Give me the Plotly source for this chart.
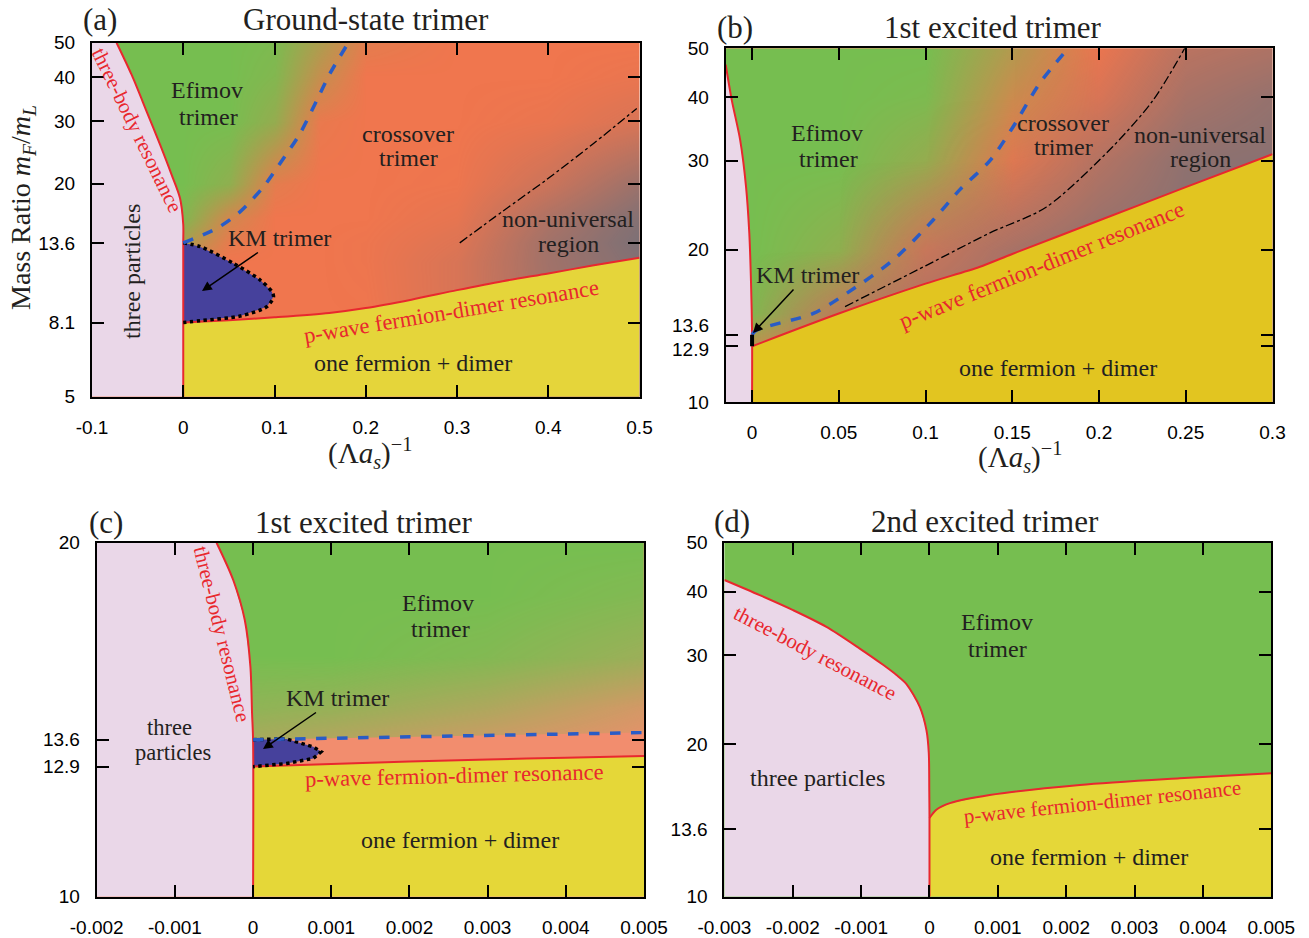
import plotly.graph_objects as go
import math

W, H = 1309, 938
SERIF = "Liberation Serif"
SANS = "Liberation Sans"
DARK = "#231f20"
RED = "#e8282e"
BLUE = "#2a5cc6"
PINK = "rgb(234,215,232)"
GREEN = "rgb(118,190,80)"
ORANGE = "rgb(240,118,78)"
SALMON = "rgb(242,141,110)"
YELLOW_A = "rgb(229,213,58)"
YELLOW_B = "rgb(226,197,32)"
YELLOW_D = "rgb(229,215,56)"
KMBLUE = "rgb(70,65,156)"

# ---------------- panel (a) ----------------
a_tb_x = [-0.0731, -0.0566, -0.0402, -0.0255, -0.0128, -0.0036, 0.0, 0.0, 0.0]
a_tb_y = [50, 40.6, 32.0, 25.8, 21.2, 18.2, 15.3, 13.6, 5]
a_pw_x = [0, 0.05, 0.1, 0.16, 0.2, 0.25, 0.3, 0.35, 0.4, 0.45, 0.5]
a_pw_y = [8.1, 8.22, 8.38, 8.62, 8.9, 9.4, 10.0, 10.6, 11.15, 11.75, 12.35]
a_km_x = [0, 0.0186, 0.0551, 0.0843, 0.0971, 0.0989, 0.0916, 0.0624, 0.0186, 0]
a_km_y = [13.6, 13.27, 11.9, 10.68, 9.9, 9.58, 8.98, 8.45, 8.2, 8.1]
a_bl_x = [0, 0.0369, 0.0624, 0.088, 0.106, 0.128, 0.1464, 0.161, 0.181]
a_bl_y = [13.6, 14.95, 16.66, 19.6, 22.8, 27.7, 34.4, 41.0, 50]
a_dd_x = [0.303, 0.35, 0.398, 0.45, 0.497]
a_dd_y = [13.6, 16.7, 20.5, 26.0, 32.6]
a_gx = [-0.1, 0.0, 0.05, 0.1, 0.15, 0.2, 0.3, 0.4, 0.5]
a_gy = [5, 8.1, 12, 13.6, 16, 20, 30, 40, 50]
a_green = [
    [0, 0, 0, 0, 0, 0, 0, 0, 0],
    [0, 0, 0, 0, 0, 0, 0, 0, 0],
    [0.3, 0.2, 0, 0, 0, 0, 0, 0, 0],
    [0.7, 0.55, 0.08, 0, 0, 0, 0, 0, 0],
    [1, 0.9, 0.25, 0, 0, 0, 0, 0, 0],
    [1, 1, 0.8, 0.1, 0, 0, 0, 0, 0],
    [1, 1, 1, 0.75, 0.05, 0, 0, 0, 0],
    [1, 1, 1, 0.9, 0.35, 0, 0, 0, 0],
    [1, 1, 1, 0.95, 0.55, 0.1, 0, 0, 0],
]
a_gray = [
    [0, 0, 0, 0, 0, 0, 0.2, 0.6, 0.85],
    [0, 0, 0, 0, 0, 0, 0.2, 0.6, 0.85],
    [0, 0, 0, 0, 0, 0.02, 0.2, 0.65, 0.9],
    [0, 0, 0, 0, 0, 0.02, 0.15, 0.65, 0.95],
    [0, 0, 0, 0, 0, 0, 0.08, 0.55, 0.9],
    [0, 0, 0, 0, 0, 0, 0.02, 0.3, 0.7],
    [0, 0, 0, 0, 0, 0, 0, 0.05, 0.2],
    [0, 0, 0, 0, 0, 0, 0, 0, 0.05],
    [0, 0, 0, 0, 0, 0, 0, 0, 0],
]

# ---------------- panel (b) ----------------
b_tb_x = [-0.0152, -0.0117, -0.0069, -0.0035, -0.0016, -0.0006, 0.0, 0.0]
b_tb_y = [46.4, 39.5, 33.0, 26.7, 21.6, 17.2, 13.7, 10]
b_pw_x = [0, 0.05, 0.1, 0.131, 0.15, 0.2, 0.25, 0.3]
b_pw_y = [12.9, 14.97, 17.15, 18.5, 19.63, 22.85, 26.6, 30.9]
b_bl_x = [0, 0.0027, 0.0353, 0.0545, 0.0814, 0.1044, 0.1198, 0.1371, 0.1505, 0.1659, 0.1822]
b_bl_y = [13.6, 13.89, 14.98, 16.41, 19.1, 22.9, 26.3, 30.0, 35.0, 42.7, 50]
b_dd_x = [0.0536, 0.1, 0.1371, 0.1697, 0.208, 0.2312, 0.2494]
b_dd_y = [15.45, 18.6, 21.6, 24.3, 32.0, 39.5, 50]
b_km_x = [0, 0]
b_km_y = [12.9, 13.6]
b_gx = [-0.015, 0, 0.05, 0.1, 0.15, 0.2, 0.25, 0.3]
b_gy = [10, 12.9, 15, 20, 30, 40, 50]
b_green = [
    [0, 0, 0, 0, 0, 0, 0, 0],
    [0.5, 0.4, 0, 0, 0, 0, 0, 0],
    [1, 0.9, 0.2, 0, 0, 0, 0, 0],
    [1, 1, 0.8, 0.05, 0, 0, 0, 0],
    [1, 1, 1, 0.75, 0.05, 0, 0, 0],
    [1, 1, 1, 0.95, 0.3, 0, 0, 0],
    [1, 1, 1, 1, 0.5, 0, 0, 0],
]
b_gray = [
    [0, 0, 0.3, 0.5, 0.6, 0.7, 0.8, 0.8],
    [0, 0, 0.3, 0.5, 0.6, 0.7, 0.8, 0.8],
    [0, 0, 0.3, 0.55, 0.7, 0.8, 0.85, 0.85],
    [0, 0, 0, 0.3, 0.6, 0.8, 0.85, 0.85],
    [0, 0, 0, 0, 0.1, 0.5, 0.8, 0.85],
    [0, 0, 0, 0, 0, 0.2, 0.6, 0.75],
    [0, 0, 0, 0, 0, 0.05, 0.45, 0.55],
]

# ---------------- panel (c) ----------------
c_tb_x = [-0.000467, -0.000255, -0.000106, -0.000034, -0.000013, 0, 0]
c_tb_y = [20, 18.6, 17.19, 15.69, 14.32, 13.6, 10]
c_pw_x = [0, 0.001, 0.002, 0.003, 0.004, 0.005]
c_pw_y = [12.9, 12.97, 13.03, 13.08, 13.13, 13.17]
c_bl_x = [0, 0.005]
c_bl_y = [13.6, 13.79]
c_km_x = [0, 0.00043, 0.00077, 0.00087, 0.00077, 0.00043, 0]
c_km_y = [13.6, 13.62, 13.41, 13.28, 13.11, 12.98, 12.9]
c_gx = [-0.002, 0, 0.001, 0.002, 0.003, 0.004, 0.005]
c_gy = [10, 13.6, 14.5, 16, 18, 20]
c_green = [
    [0, 0, 0, 0, 0, 0, 0],
    [0.6, 0.6, 0.5, 0.4, 0.3, 0.2, 0.1],
    [0.8, 0.8, 0.75, 0.65, 0.55, 0.4, 0.25],
    [1, 1, 1, 0.95, 0.9, 0.8, 0.7],
    [1, 1, 1, 1, 1, 0.95, 0.9],
    [1, 1, 1, 1, 1, 1, 1],
]

# ---------------- panel (d) ----------------
d_tb_x = [-0.003, -0.002484, -0.001996, -0.001507, -0.00102, -0.000679, -0.000483,
          -0.000337, -0.000142, -0.000044, -0.00001, -0.000003, 0, 0]
d_tb_y = [42.2, 39.4, 36.8, 34.1, 30.9, 28.7, 27.4, 26.3, 23.7, 21.3, 19.2, 16.2, 14.3, 10]
d_pw_x = [0, 0.0001, 0.0003, 0.00088, 0.0022, 0.00366, 0.005]
d_pw_y = [14.3, 14.85, 15.3, 15.88, 16.62, 17.13, 17.53]

# ---------------- axes ----------------
ranges = {
    1: dict(x=(-0.1, 0.5), y=(5, 50),
            xt=[-0.1, 0, 0.1, 0.2, 0.3, 0.4, 0.5], xl=["-0.1", "0", "0.1", "0.2", "0.3", "0.4", "0.5"],
            yt=[5, 8.1, 13.6, 20, 30, 40, 50], yl=["5", "8.1", "13.6", "20", "30", "40", "50"],
            dom_x=(92, 639.5), dom_y=(42.7, 396.7)),
    2: dict(x=(-0.0152, 0.3), y=(10, 50),
            xt=[0, 0.05, 0.1, 0.15, 0.2, 0.25, 0.3], xl=["0", "0.05", "0.1", "0.15", "0.2", "0.25", "0.3"],
            yt=[10, 12.9, 13.6, 20, 30, 40, 50], yl=["10", "", "", "20", "30", "40", "50"],
            dom_x=(725.7, 1272.5), dom_y=(48.3, 402.3)),
    3: dict(x=(-0.002, 0.005), y=(10, 20),
            xt=[-0.002, -0.001, 0, 0.001, 0.002, 0.003, 0.004, 0.005],
            xl=["-0.002", "-0.001", "0", "0.001", "0.002", "0.003", "0.004", "0.005"],
            yt=[10, 12.9, 13.6, 20], yl=["10", "12.9", "13.6", "20"],
            dom_x=(96.7, 644), dom_y=(542.7, 896.7)),
    4: dict(x=(-0.003, 0.005), y=(10, 50),
            xt=[-0.003, -0.002, -0.001, 0, 0.001, 0.002, 0.003, 0.004, 0.005],
            xl=["-0.003", "-0.002", "-0.001", "0", "0.001", "0.002", "0.003", "0.004", "0.005"],
            yt=[10, 13.6, 20, 30, 40, 50], yl=["10", "13.6", "20", "30", "40", "50"],
            dom_x=(724.4, 1271.3), dom_y=(542.7, 896.7)),
}

fig = go.Figure()

layout = dict(width=W, height=H, margin=dict(l=0, r=0, t=0, b=0, autoexpand=False),
              paper_bgcolor="white", plot_bgcolor="white", showlegend=False)
for i, r in ranges.items():
    sx = "" if i == 1 else str(i)
    layout["xaxis" + sx] = dict(
        domain=[r["dom_x"][0] / W, r["dom_x"][1] / W], range=list(r["x"]), anchor="y" + sx,
        tickvals=r["xt"], ticktext=r["xl"], ticks="inside", ticklen=12, tickwidth=2,
        tickcolor="black", showline=True, linewidth=2, linecolor="black", mirror="allticks",
        showgrid=False, zeroline=False, tickfont=dict(family=SANS, size=19, color="black"),
        ticklabelstandoff=12, layer="above traces", automargin=False)
    layout["yaxis" + sx] = dict(
        domain=[1 - r["dom_y"][1] / H, 1 - r["dom_y"][0] / H], type="log",
        range=[math.log10(r["y"][0]), math.log10(r["y"][1])], anchor="x" + sx,
        tickvals=r["yt"], ticktext=r["yl"], ticks="inside", ticklen=12, tickwidth=2,
        tickcolor="black", showline=True, linewidth=2, linecolor="black", mirror="allticks",
        showgrid=False, zeroline=False, tickfont=dict(family=SANS, size=19, color="black"),
        ticklabelstandoff=11, layer="above traces", automargin=False)

shapes = []
bgs = {1: ORANGE, 2: ORANGE, 3: SALMON, 4: GREEN}
for i, c in bgs.items():
    sx = "" if i == 1 else str(i)
    shapes.append(dict(type="rect", xref="x" + sx + " domain", yref="y" + sx + " domain",
                       x0=0, x1=1, y0=0, y1=1, fillcolor=c, line=dict(width=0), layer="below"))
layout["shapes"] = shapes


def alpha_scale(rgb):
    return [[0, "rgba(%d,%d,%d,0)" % rgb], [1, "rgba(%d,%d,%d,1)" % rgb]]


def heat(gx, gy, z, rgb, ax):
    fig.add_trace(go.Heatmap(x=gx, y=gy, z=z, zmin=0, zmax=1, zsmooth="best",
                             colorscale=alpha_scale(rgb), showscale=False,
                             hoverinfo="skip", xaxis="x" + ax, yaxis="y" + ax))


def poly(xs, ys, color, ax):
    fig.add_trace(go.Scatter(x=xs, y=ys, mode="lines", fill="toself", fillcolor=color,
                             line=dict(width=0, color=color), hoverinfo="skip",
                             xaxis="x" + ax, yaxis="y" + ax))


def line(xs, ys, color, width, dash, ax, shape="spline"):
    fig.add_trace(go.Scatter(x=xs, y=ys, mode="lines",
                             line=dict(color=color, width=width, dash=dash, shape=shape,
                                       smoothing=0.8),
                             hoverinfo="skip", xaxis="x" + ax, yaxis="y" + ax))


# heatmap gradients
heat(a_gx, a_gy, a_green, (118, 190, 80), "")
heat(a_gx, a_gy, a_gray, (118, 112, 120), "")
heat(b_gx, b_gy, b_green, (118, 190, 80), "2")
heat(b_gx, b_gy, b_gray, (118, 112, 120), "2")
heat(c_gx, c_gy, c_green, (118, 190, 80), "3")

# panel (a)
poly([-0.1, -0.1] + a_tb_x, [5, 50] + a_tb_y, PINK, "")
poly([0] + a_pw_x + [0.5], [5] + a_pw_y + [5], YELLOW_A, "")
poly(a_km_x, a_km_y, KMBLUE, "")
line(a_tb_x, a_tb_y, RED, 2, "solid", "")
line(a_pw_x, a_pw_y, RED, 2, "solid", "")
line(a_km_x, a_km_y, "black", 3.5, "dot", "")
line(a_bl_x, a_bl_y, BLUE, 3.5, "dash", "")
line(a_dd_x, a_dd_y, "black", 1.3, "dashdot", "")

# panel (b)
poly([-0.0152, -0.0152] + b_tb_x, [10, 46.4] + b_tb_y, PINK, "2")
poly([0] + b_pw_x + [0.3], [10] + b_pw_y + [10], YELLOW_B, "2")
line(b_tb_x, b_tb_y, RED, 2, "solid", "2")
line(b_pw_x, b_pw_y, RED, 2, "solid", "2")
line(b_bl_x, b_bl_y, BLUE, 3.5, "dash", "2")
line(b_dd_x, b_dd_y, "black", 1.3, "dashdot", "2")
line(b_km_x, b_km_y, "black", 4, "solid", "2", "linear")

# panel (c)
poly([-0.002, -0.002] + c_tb_x, [10, 20] + c_tb_y, PINK, "3")
poly([0] + c_pw_x + [0.005], [10] + c_pw_y + [10], YELLOW_D, "3")
poly(c_pw_x + c_bl_x[::-1], c_pw_y + c_bl_y[::-1], SALMON, "3")
poly(c_km_x, c_km_y, KMBLUE, "3")
line(c_tb_x, c_tb_y, RED, 2, "solid", "3")
line(c_pw_x, c_pw_y, RED, 2, "solid", "3")
line(c_km_x, c_km_y, "black", 3.5, "dot", "3", "linear")
line(c_bl_x, c_bl_y, BLUE, 3.5, "dash", "3", "linear")

# panel (d)
poly([-0.003, -0.003] + d_tb_x, [10, 42.2] + d_tb_y, PINK, "4")
poly([0] + d_pw_x + [0.005], [10] + d_pw_y + [10], YELLOW_D, "4")
line(d_tb_x, d_tb_y, RED, 2, "solid", "4")
line(d_pw_x, d_pw_y, RED, 2, "solid", "4")


# ---------------- text ----------------
def T(px, py, text, size=24, color=DARK, angle=0, family=SERIF, xanchor="center"):
    return dict(x=px / W, y=1 - py / H, xref="paper", yref="paper", text=text, showarrow=False,
                font=dict(family=family, size=size, color=color), textangle=angle,
                xanchor=xanchor, yanchor="middle")


def A(hx, hy, tx, ty, text, size=24):
    return dict(x=hx / W, y=1 - hy / H, xref="paper", yref="paper", text=text, showarrow=True,
                ax=tx - hx, ay=ty - hy, arrowhead=2, arrowsize=1.3, arrowwidth=1.5,
                arrowcolor="black", standoff=0, font=dict(family=SERIF, size=size, color=DARK))


ann = [
    # (a)
    T(100, 20, "(a)", 31), T(366, 20, "Ground-state trimer", 31),
    T(207, 90, "Efimov"), T(208, 117, "trimer"),
    T(137, 130, "three-body resonance", 21, RED, 64),
    T(132, 272, "three particles", 24, DARK, -90),
    A(202, 291, 279, 238, "KM trimer"),
    T(408, 134, "crossover"), T(408, 158, "trimer"),
    T(568, 219, "non-universal"), T(568, 244, "region"),
    T(451, 312, "p-wave fermion-dimer resonance", 22.5, RED, -9.4),
    T(413, 363, "one fermion + dimer"),
    T(22, 208, "Mass Ratio <i>m<sub>F</sub></i>/<i>m<sub>L</sub></i>", 28, DARK, -90),
    T(370, 453, "(Λ<i>a<sub>s</sub></i>)<sup>−1</sup>", 29),
    # (b)
    T(735, 28, "(b)", 31), T(993, 27, "1st excited trimer", 31),
    T(827, 133, "Efimov"), T(828, 159, "trimer"),
    T(1063, 123, "crossover"), T(1063, 147, "trimer"),
    T(1200, 135, "non-universal"), T(1200, 159, "region"),
    A(753, 333, 807, 275, "KM trimer"),
    T(1041, 265, "p-wave fermion-dimer resonance", 23, RED, -22),
    T(1058, 368, "one fermion + dimer"),
    T(1020, 457, "(Λ<i>a<sub>s</sub></i>)<sup>−1</sup>", 29),
    T(711, 325, "13.6", 19, "black", 0, SANS, "right"),
    T(711, 349, "12.9", 19, "black", 0, SANS, "right"),
    # (c)
    T(106, 522, "(c)", 31), T(364, 522, "1st excited trimer", 31),
    T(222, 634, "three-body resonance", 21, RED, 76),
    T(169, 727, "three", 22.5), T(173, 752, "particles", 22.5),
    T(438, 603, "Efimov"), T(440, 629, "trimer"),
    A(263, 749, 337, 698, "KM trimer"),
    T(454, 775, "p-wave fermion-dimer resonance", 22.5, RED, -1.4),
    T(460, 840, "one fermion + dimer"),
    # (d)
    T(732, 521, "(d)", 31), T(985, 521, "2nd excited trimer", 31),
    T(815, 653, "three-body resonance", 21, RED, 27.5),
    T(817, 778, "three particles"),
    T(997, 622, "Efimov"), T(997, 649, "trimer"),
    T(1102, 802, "p-wave fermion-dimer resonance", 21, RED, -6),
    T(1089, 857, "one fermion + dimer"),
]
layout["annotations"] = ann

fig.update_layout(**layout)
fig.write_html("out.html", config={"displayModeBar": False},
               post_script="document.body.style.margin='0px';document.body.style.overflow='hidden';")
